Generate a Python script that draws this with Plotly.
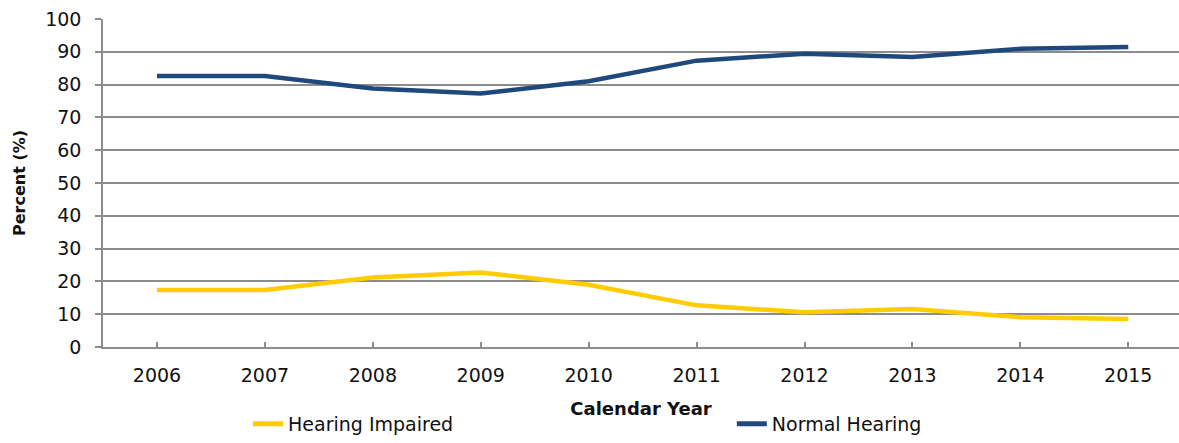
import plotly.graph_objects as go

years = ["2006", "2007", "2008", "2009", "2010", "2011", "2012", "2013", "2014", "2015"]
hearing_impaired = [17.4, 17.4, 21.2, 22.7, 19.0, 12.7, 10.6, 11.6, 9.1, 8.5]
normal_hearing = [82.6, 82.6, 78.8, 77.3, 81.0, 87.3, 89.4, 88.4, 90.9, 91.5]
y_ticks = [0, 10, 20, 30, 40, 50, 60, 70, 80, 90, 100]

FONT = "DejaVu Sans"
GRID = "#8c8c8c"

fig = go.Figure()
fig.add_trace(go.Scatter(
    x=years, y=hearing_impaired, mode="lines", name="Hearing Impaired",
    line=dict(color="#FFCC00", width=4.5), legend="legend",
))
fig.add_trace(go.Scatter(
    x=years, y=normal_hearing, mode="lines", name="Normal Hearing",
    line=dict(color="#1F497D", width=4.5), legend="legend2",
))

legend_style = dict(
    orientation="h", xanchor="left", y=-0.292, yanchor="bottom",
    font=dict(family=FONT, size=19, color="#111111"),
    itemsizing="constant", bgcolor="rgba(0,0,0,0)",
)

fig.update_layout(
    width=1179, height=443,
    margin=dict(l=103, r=0, t=19, b=96),
    paper_bgcolor="white", plot_bgcolor="white",
    font=dict(family=FONT, size=19, color="#111111"),
    showlegend=True,
    legend=dict(x=0.1348, **legend_style),
    legend2=dict(x=0.5844, **legend_style),
    xaxis=dict(
        type="category", range=[-0.5, 9.47],
        showgrid=False, showline=True, linecolor=GRID, linewidth=1.5,
        ticks="inside", ticklen=5, tickcolor=GRID, tickwidth=1.5,
        ticklabelstandoff=10,
        tickfont=dict(family=FONT, size=19, color="#111111"),
        title=dict(text="<b>Calendar Year</b>", standoff=18,
                   font=dict(family=FONT, size=18, color="#111111")),
        fixedrange=True,
    ),
    yaxis=dict(
        range=[0, 100], tickvals=y_ticks,
        showgrid=True, gridcolor=GRID, gridwidth=1.5,
        showline=True, linecolor=GRID, linewidth=1.5,
        ticks="outside", ticklen=6, tickcolor=GRID, tickwidth=1.5,
        ticklabelstandoff=10,
        tickfont=dict(family=FONT, size=19, color="#111111"),
        title=dict(text="<b>Percent (%)</b>", standoff=16,
                   font=dict(family=FONT, size=16, color="#111111")),
        zeroline=False, fixedrange=True,
    ),
)

fig.write_html("out.html")
